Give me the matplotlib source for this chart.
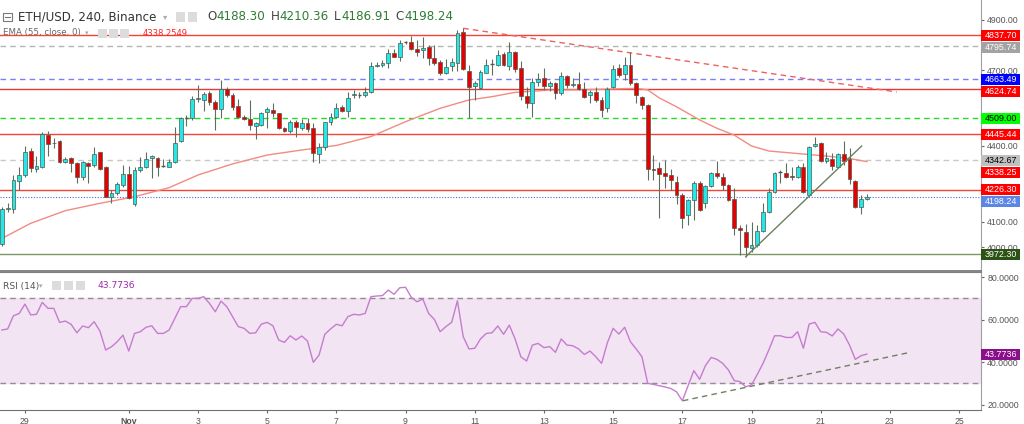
import matplotlib
matplotlib.use("Agg")
import matplotlib.pyplot as plt
from matplotlib.patches import Rectangle

plt.rcParams['font.family'] = ['Liberation Sans', 'DejaVu Sans']

# ---------------- data (4h candles, index 0 = Oct 28 08:00) ----------------
opens = [4012, 4150, 4150, 4262, 4285, 4380, 4308, 4318, 4443, 4410,
         4420, 4338, 4351, 4334, 4278, 4334, 4325, 4375, 4318, 4199,
         4213, 4246, 4288, 4170, 4305, 4318, 4351, 4354, 4321, 4318,
         4338, 4421, 4511, 4509, 4586, 4582, 4611, 4575, 4545, 4624,
         4602, 4560, 4516, 4505, 4480, 4483, 4534, 4542, 4529, 4470,
         4459, 4496, 4470, 4489, 4472, 4368, 4397, 4496, 4516, 4553,
         4540, 4600, 4602, 4602, 4612, 4718, 4720, 4730, 4766, 4751,
         4809, 4811, 4782, 4779, 4790, 4749, 4734, 4690, 4718, 4727,
         4852, 4697, 4637, 4628, 4690, 4722, 4720, 4762, 4718, 4773,
         4710, 4598, 4571, 4654, 4668, 4637, 4648, 4608, 4678, 4640,
         4645, 4625, 4602, 4615, 4582, 4549, 4635, 4707, 4683, 4720,
         4648, 4592, 4562, 4307, 4311, 4292, 4286, 4258, 4206, 4127,
         4186, 4252, 4176, 4241, 4292, 4278, 4245, 4189, 4074, 4061,
         3995, 4008, 4063, 4140, 4219, 4294, 4294, 4282, 4278, 4318,
         4206, 4400, 4413, 4342, 4347, 4318, 4367, 4347, 4262, 4160,
         4188.30]
highs = [4160, 4175, 4285, 4318, 4400, 4390, 4360, 4457, 4460, 4430,
         4424, 4358, 4355, 4338, 4342, 4338, 4394, 4377, 4321, 4226,
         4259, 4325, 4322, 4318, 4358, 4377, 4364, 4358, 4347, 4347,
         4476, 4516, 4522, 4597, 4641, 4615, 4619, 4582, 4661, 4635,
         4608, 4584, 4522, 4582, 4496, 4536, 4553, 4569, 4532, 4476,
         4503, 4503, 4505, 4512, 4489, 4410, 4496, 4529, 4569, 4562,
         4612, 4621, 4615, 4635, 4734, 4734, 4740, 4782, 4782, 4819,
         4817, 4835, 4819, 4830, 4800, 4800, 4740, 4743, 4747, 4859,
         4865, 4720, 4658, 4701, 4743, 4743, 4780, 4770, 4810, 4777,
         4737, 4635, 4668, 4690, 4707, 4657, 4653, 4694, 4681, 4668,
         4694, 4654, 4621, 4635, 4592, 4635, 4720, 4723, 4751, 4770,
         4654, 4598, 4566, 4364, 4336, 4344, 4310, 4280, 4212, 4191,
         4261, 4261, 4245, 4298, 4342, 4292, 4248, 4232, 4087, 4091,
         4100, 4087, 4173, 4232, 4298, 4305, 4331, 4318, 4325, 4331,
         4400, 4437, 4417, 4377, 4371, 4374, 4421, 4390, 4265, 4206,
         4210.36]
lows = [4005, 4140, 4136, 4226, 4278, 4298, 4298, 4311, 4360, 4390,
        4334, 4334, 4298, 4252, 4265, 4252, 4318, 4305, 4197, 4173,
        4206, 4239, 4189, 4162, 4298, 4311, 4272, 4281, 4318, 4315,
        4331, 4417, 4479, 4503, 4575, 4540, 4562, 4463, 4509, 4595,
        4542, 4509, 4503, 4463, 4426, 4479, 4470, 4516, 4466, 4457,
        4450, 4437, 4463, 4457, 4338, 4334, 4384, 4483, 4509, 4536,
        4514, 4589, 4589, 4592, 4611, 4714, 4714, 4707, 4751, 4738,
        4803, 4780, 4756, 4747, 4720, 4720, 4681, 4685, 4698, 4698,
        4700, 4509, 4582, 4624, 4687, 4681, 4718, 4718, 4700, 4694,
        4582, 4549, 4513, 4637, 4621, 4619, 4586, 4602, 4628, 4634,
        4621, 4591, 4571, 4575, 4516, 4536, 4628, 4674, 4661, 4641,
        4571, 4545, 4265, 4265, 4114, 4232, 4226, 4170, 4074, 4087,
        4107, 4144, 4153, 4239, 4272, 4226, 4184, 4048, 3968, 3960,
        3982, 4001, 4061, 4133, 4215, 4252, 4272, 4265, 4272, 4212,
        4202, 4397, 4338, 4331, 4305, 4311, 4325, 4248, 4153, 4129,
        4186.91]
closes = [4150, 4154, 4265, 4285, 4377, 4311, 4320, 4446, 4408, 4413,
          4338, 4347, 4331, 4278, 4338, 4322, 4367, 4307, 4199, 4215,
          4248, 4289, 4193, 4305, 4318, 4347, 4361, 4318, 4323, 4338,
          4413, 4509, 4513, 4584, 4589, 4606, 4575, 4545, 4624, 4602,
          4553, 4516, 4505, 4483, 4489, 4532, 4545, 4529, 4470, 4461,
          4496, 4474, 4489, 4466, 4371, 4397, 4493, 4516, 4549, 4540,
          4588, 4606, 4603, 4615, 4718, 4722, 4730, 4766, 4753, 4809,
          4811, 4782, 4773, 4786, 4747, 4730, 4690, 4714, 4731, 4846,
          4703, 4635, 4649, 4691, 4720, 4723, 4760, 4720, 4773, 4703,
          4598, 4571, 4652, 4665, 4639, 4648, 4608, 4678, 4641, 4645,
          4625, 4595, 4615, 4582, 4542, 4625, 4703, 4681, 4720, 4648,
          4602, 4562, 4307, 4303, 4290, 4281, 4265, 4206, 4116, 4186,
          4255, 4146, 4241, 4292, 4281, 4245, 4186, 4074, 4068, 4001,
          4008, 4063, 4140, 4219, 4294, 4296, 4278, 4276, 4315, 4216,
          4397, 4408, 4342, 4351, 4322, 4368, 4342, 4268, 4160, 4189,
          4198.24]

ema_idx = [0, 5, 11, 17, 23, 29, 34, 40, 46, 52, 58, 64, 70, 76, 81, 85, 89,
           95, 100, 105, 110, 112, 114, 117, 121, 124, 127, 130, 133, 139,
           143, 147, 150]
ema_val = [4034, 4094, 4144, 4173, 4199, 4235, 4285, 4329, 4364, 4384, 4402,
           4437, 4496, 4549, 4582, 4595, 4612, 4621, 4622, 4625, 4628, 4622,
           4590, 4555, 4503, 4470, 4443, 4400, 4380, 4368, 4360, 4350, 4338.25]
ema_last_text = "4338.2549"

rsi_val = [55.1, 55.6, 61.8, 62.9, 67.3, 62.2, 62.5, 68.1, 65.3, 65.3,
           58.7, 59.3, 57.8, 53.8, 57.0, 56.2, 59.0, 54.6, 45.7, 47.2,
           49.6, 52.7, 45.2, 53.5, 54.3, 56.4, 57.1, 53.5, 53.5, 55.1,
           60.6, 66.1, 66.1, 70.0, 70.0, 70.8, 67.6, 63.7, 68.7, 66.1,
           61.4, 56.7, 55.9, 53.5, 53.8, 57.9, 58.7, 57.1, 50.4, 49.3,
           52.4, 50.4, 52.3, 49.9, 39.9, 43.3, 53.1, 55.6, 57.8, 57.1,
           61.4, 62.5, 62.2, 62.9, 70.8, 71.1, 71.3, 73.9, 71.9, 75.0,
           75.2, 70.5, 68.4, 69.7, 62.9, 60.1, 54.3, 56.7, 58.7, 68.9,
           52.0, 46.2, 46.5, 50.9, 53.5, 53.8, 57.0, 53.1, 57.4, 50.9,
           42.5, 40.5, 48.0, 48.8, 46.8, 47.3, 44.6, 50.9, 48.0, 47.7,
           46.2, 43.6, 45.2, 42.5, 39.4, 49.1, 55.9, 53.2, 56.4, 49.6,
           46.2, 42.5, 30.0, 29.5, 28.9, 28.3, 27.6, 26.0, 21.8, 28.9,
           36.0, 31.9, 38.3, 42.2, 41.3, 39.4, 36.3, 31.3, 30.8, 28.4,
           29.2, 34.2, 39.4, 45.7, 52.4, 52.4, 51.6, 51.6, 54.3, 46.5,
           57.9, 58.7, 54.3, 54.0, 52.3, 55.6, 53.2, 48.0, 41.3, 43.0,
           43.7736]
rsi_last_text = "43.7736"

# horizontal levels
level_prices = [4837.70, 4795.74, 4663.49, 4624.74, 4509.00, 4445.44, 4342.67, 4226.30, 3972.30]
level_colors = ['#f44336', '#b5b5b5', '#7b7bff', '#e53935', '#22dd22', '#f44336', '#c8c8c8', '#f44336', '#7d9868']
level_styles = ['-', (0, (4, 3)), (0, (4, 3)), '-', (0, (4, 3)), '-', (0, (4, 3)), '-', '-']
label_bg = ['#ff0000', '#a3a3a3', '#0000ff', '#ff0000', '#00ff00', '#ff0000', '#c0c0c0', '#ff0000', '#2b5114']
label_fg = ['white', 'white', 'white', 'white', 'black', 'white', 'black', 'white', 'white']

# trend lines (candle index, price)
down_line = [(80.0, 4865.6), (155.2, 4613.5)]
up_line = [(129.0, 3961.8), (149.1, 4399.8)]
rsi_line = [(118.1, 21.8), (157.0, 44.3)]

# date ticks: days after Oct 29
tick_days = [0, 3, 5, 7, 9, 11, 13, 15, 17, 19, 21, 23, 25, 27]
tick_labels = ['29', 'Nov', '3', '5', '7', '9', '11', '13', '15', '17', '19', '21', '23', '25']
CANDLES_PER_DAY = 6
OCT29_INDEX = 4

# ---------------- figure ----------------
W, H = 1024, 424
fig = plt.figure(figsize=(W / 100, H / 100), dpi=100)
fig.patch.set_facecolor('white')

def fy(y):
    return 1 - y / H

ax = fig.add_axes([0, fy(270.5), 981 / W, 270.5 / H])
rx = fig.add_axes([0, fy(409.7), 981 / W, (409.7 - 271.5) / H], sharex=ax)

UP = '#22e8e8'
DN = '#e80000'
EDGE = '#4d5a4d'
WICK = '#5e6e5e'

for k, (o, h, l, c) in enumerate(zip(opens, highs, lows, closes)):
    ax.vlines(k, l, h, color=WICK, lw=0.8, zorder=3)
    if abs(c - o) < 3:
        ax.hlines((o + c) / 2, k - 0.33, k + 0.33, color=EDGE, lw=1.0, zorder=4)
        continue
    col = UP if c >= o else DN
    ax.add_patch(Rectangle((k - 0.33, min(o, c)), 0.66, abs(c - o), fc=col,
                           ec=EDGE, lw=0.5, zorder=4))

ax.plot(ema_idx, ema_val, color='#f28b82', lw=1.0, zorder=2)

for p, c, s in zip(level_prices, level_colors, level_styles):
    ax.axhline(p, color=c, ls=s, lw=1.0, zorder=1)
ax.axhline(closes[-1], color='#4a6fd8', ls=(0, (1, 1.5)), lw=0.8, zorder=1)

ax.plot([down_line[0][0], down_line[1][0]], [down_line[0][1], down_line[1][1]],
        color='#f06060', ls=(0, (4, 3)), lw=1.0, zorder=2)
ax.plot([up_line[0][0], up_line[1][0]], [up_line[0][1], up_line[1][1]],
        color='#6b8060', lw=1.0, zorder=5)

XMIN, XMAX = -0.33, 169.8
ax.set_xlim(XMIN, XMAX)
ax.set_ylim(3907.2, 4977.5)
yt = list(range(4000, 4901, 100))
ax.set_yticks(yt)
ax.set_yticklabels([f'{v:.2f}' for v in yt])
ax.yaxis.tick_right()
ax.tick_params(axis='y', length=2.5, width=0.8, colors='#666', labelcolor='#555',
               labelsize=6.3, pad=2)
ax.tick_params(axis='x', bottom=False, labelbottom=False)
for sp in ['left', 'top']:
    ax.spines[sp].set_visible(False)
ax.spines['right'].set_color('#a0a0a0')
ax.spines['bottom'].set_color('#707070')
ax.spines['bottom'].set_linewidth(1.2)

# RSI panel
rx.axhspan(30, 70, color='#f2e4f3', zorder=0)
rx.axhline(70, color='#958a95', ls=(0, (4, 3)), lw=1.0, zorder=1)
rx.axhline(30, color='#958a95', ls=(0, (4, 3)), lw=1.0, zorder=1)
rx.plot(range(len(rsi_val)), rsi_val, color='#c57ccf', lw=1.0, zorder=3)
rx.plot([rsi_line[0][0], rsi_line[1][0]], [rsi_line[0][1], rsi_line[1][1]],
        color='#6e8060', ls=(0, (4, 3)), lw=1.0, zorder=2)
rx.set_ylim(17.6, 82.64)
rt = [20, 40, 60, 80]
rx.set_yticks(rt)
rx.set_yticklabels([f'{v:.4f}' for v in rt])
rx.yaxis.tick_right()
rx.tick_params(axis='y', length=2.5, width=0.8, colors='#666', labelcolor='#555',
               labelsize=6.3, pad=2)
xt = [OCT29_INDEX + CANDLES_PER_DAY * d for d in tick_days]
rx.set_xticks(xt)
rx.set_xticklabels(tick_labels)
rx.tick_params(axis='x', length=2, width=0.8, colors='#666', labelcolor='#555',
               labelsize=6.3, pad=3)
rx.set_xlim(XMIN, XMAX)
for lbl in rx.get_xticklabels():
    if lbl.get_text() == 'Nov':
        lbl.set_fontweight('bold')
rx.spines['left'].set_visible(False)
rx.spines['top'].set_color('#808080')
rx.spines['top'].set_linewidth(0.8)
rx.spines['right'].set_color('#a0a0a0')
rx.spines['bottom'].set_color('#707070')

# ---------------- price labels on the right axis ----------------
def data_to_pix(a, v):
    return H - a.transData.transform((0, v))[1]

BOX_H = 11

def box_label(ypix, text, bg, fg):
    x0, wbox = 981, 39
    fig.add_artist(Rectangle((x0 / W, fy(ypix + BOX_H / 2)), wbox / W, BOX_H / H,
                             transform=fig.transFigure, fc=bg, ec='none', zorder=10))
    fig.text((x0 + 4) / W, fy(ypix), text, color=fg, fontsize=6.4, va='center',
             ha='left', zorder=11)

labels = []
for p, bg, fg in zip(level_prices, label_bg, label_fg):
    labels.append((p, f'{p:.2f}', bg, fg))
labels.append((ema_val[-1], f'{ema_val[-1]:.2f}', '#ff0000', 'white'))
labels.append((closes[-1], f'{closes[-1]:.2f}', '#5b86e5', 'white'))
labels.sort(key=lambda t: -t[0])
prev = -100
box_ys = []
for p, txt, bg, fg in labels:
    yp = data_to_pix(ax, p)
    if yp - prev < 12:
        yp = prev + 12
    box_label(yp, txt, bg, fg)
    box_ys.append(yp)
    prev = yp

# tick labels mostly covered by a price box are hidden (as on the source chart)
for v, tick in zip(yt, ax.yaxis.get_major_ticks()):
    ty = data_to_pix(ax, v)
    if any(abs(ty - by) < 6.5 for by in box_ys):
        tick.label2.set_visible(False)

rsi_box_y = data_to_pix(rx, rsi_val[-1])
box_label(rsi_box_y, rsi_last_text, '#8a0f8a', 'white')

# ---------------- header / legends ----------------
def T(x, y, s, **kw):
    kw.setdefault('va', 'center')
    kw.setdefault('ha', 'left')
    return fig.text(x / W, fy(y), s, **kw)

def icon(x, y, w=9, h=9, fc='#dcdcdc'):
    fig.add_artist(Rectangle((x / W, fy(y + h)), w / W, h / H, transform=fig.transFigure,
                             fc=fc, ec='none', zorder=5))

fig.add_artist(Rectangle((3 / W, fy(21)), 9 / W, 8 / H, transform=fig.transFigure,
                         fc='white', ec='#777', lw=0.8, zorder=5))
fig.add_artist(plt.Line2D([5 / W, 10 / W], [fy(17), fy(17)], transform=fig.transFigure,
                          color='#777', lw=0.8, zorder=6))
T(18, 17, 'ETH/USD, 240, Binance', fontsize=8.6, color='#333', family='DejaVu Sans')
T(163, 17, '\u25be', fontsize=6, color='#aaa', family='DejaVu Sans')
icon(176, 12.5)
icon(188, 12.5)

renderer = fig.canvas.get_renderer()
x = 207
green = '#2e7d32'
for letter, val in [('O', opens[-1]), ('H', highs[-1]), ('L', lows[-1]), ('C', closes[-1])]:
    t = T(x, 17, letter, fontsize=8.6, color='#444', family='DejaVu Sans')
    x += t.get_window_extent(renderer).width + 0.5
    t = T(x, 17, f'{val:.2f}', fontsize=8.6, color=green, family='DejaVu Sans')
    x += t.get_window_extent(renderer).width + 5

T(3, 33, 'EMA (55, close, 0)', fontsize=6.2, color='#666', family='DejaVu Sans')
T(85, 33, '\u25be', fontsize=5, color='#aaa', family='DejaVu Sans')
icon(98, 29)
icon(109, 29)
icon(120, 29)
T(143, 33, ema_last_text, fontsize=6.0, color='#ff2020', family='DejaVu Sans')

T(3, 286, 'RSI (14)', fontsize=6.6, color='#555', family='DejaVu Sans')
T(39, 286, '\u25be', fontsize=5, color='#aaa', family='DejaVu Sans')
icon(52, 281)
icon(64, 281)
icon(76, 281)
T(97, 286, rsi_last_text, fontsize=6.6, color='#9c27b0', family='DejaVu Sans')

fig.savefig('out.png', dpi=100, facecolor='white')
